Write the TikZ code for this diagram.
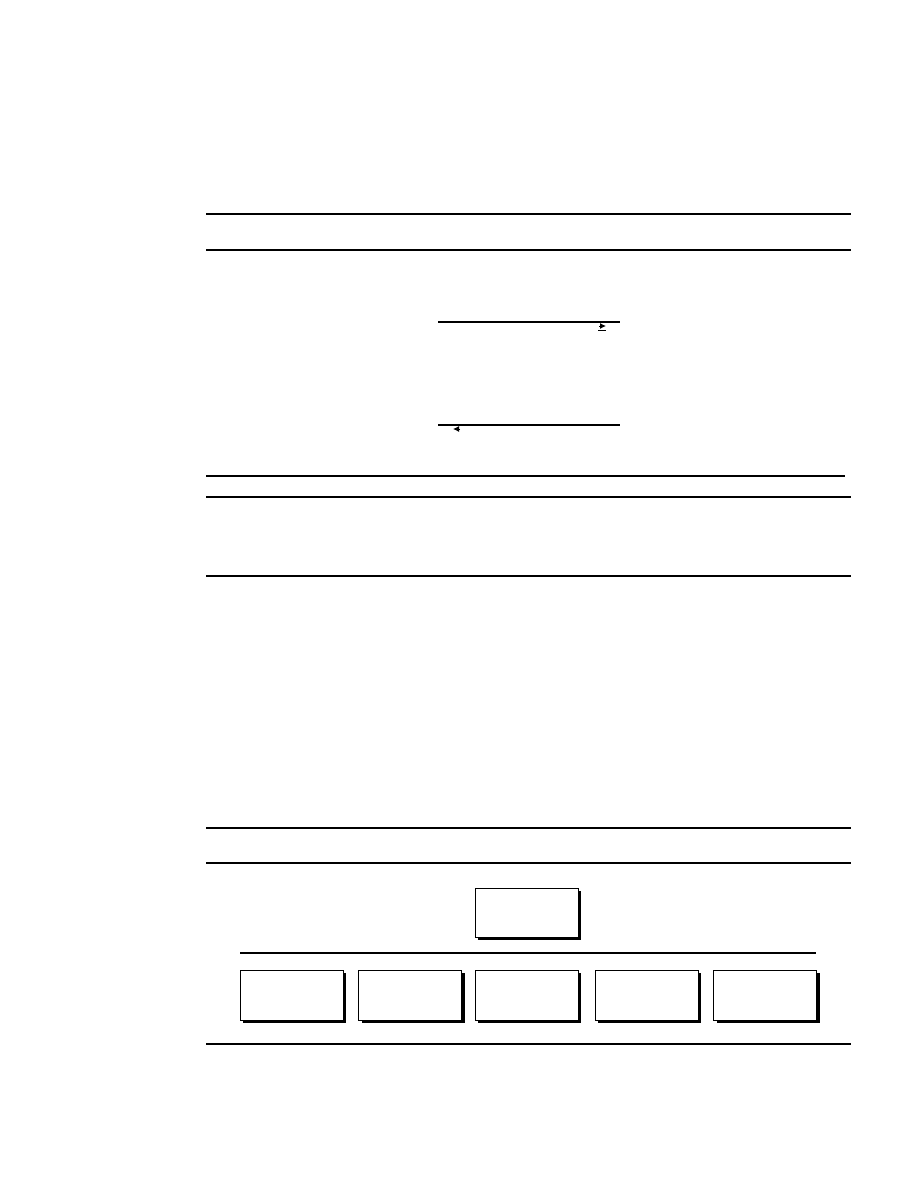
\documentclass[tikz,border=0pt]{standalone}
\usetikzlibrary{arrows.meta,shadows}
\begin{document}
\begin{tikzpicture}[x=1pt,y=-1pt,
  rule/.style={line width=1.2pt},
  boldrule/.style={line width=2pt},
  sbox/.style={draw, line width=1pt, fill=white, minimum width=103pt, minimum height=50pt, inner sep=0pt,
    drop shadow={shadow xshift=3pt, shadow yshift=-3pt, fill=black, opacity=1}},
  tip/.style={-{Latex[length=6pt,width=6pt]}, line width=1pt}]
\useasboundingbox (0,0) rectangle (918,1188);
% horizontal rules
\coordinate (r1a) at (206,214); \coordinate (r1b) at (851,214);
\coordinate (r2a) at (206,250); \coordinate (r2b) at (851,250);
\coordinate (r3a) at (206,476); \coordinate (r3b) at (845,476);
\coordinate (r4a) at (206,497); \coordinate (r4b) at (851,497);
\coordinate (r5a) at (206,576); \coordinate (r5b) at (851,576);
\coordinate (r6a) at (206,828); \coordinate (r6b) at (851,828);
\coordinate (r7a) at (206,863); \coordinate (r7b) at (851,863);
\coordinate (r8a) at (206,1044); \coordinate (r8b) at (851,1044);
\draw[rule] (r1a) -- (r1b);
\draw[rule] (r2a) -- (r2b);
\draw[rule] (r3a) -- (r3b);
\draw[boldrule] (r4a) -- (r4b);
\draw[boldrule] (r5a) -- (r5b);
\draw[rule] (r6a) -- (r6b);
\draw[rule] (r7a) -- (r7b);
\draw[rule] (r8a) -- (r8b);
% arrows
\coordinate (a1s) at (438,322); \coordinate (a1e) at (620,322);
\coordinate (t1s) at (599,326); \coordinate (t1e) at (606,326);
\coordinate (u1s) at (598,330); \coordinate (u1e) at (606,330);
\draw[rule] (a1s) -- (a1e);
\draw[tip] (t1s) -- (t1e);
\draw[line width=1pt] (u1s) -- (u1e);
\coordinate (a2s) at (438,425); \coordinate (a2e) at (620,425);
\coordinate (t2s) at (460,429); \coordinate (t2e) at (453,429);
\draw[rule] (a2s) -- (a2e);
\draw[tip] (t2s) -- (t2e);
% boxes
\node[sbox, minimum height=49pt] (top) at (526.5,912.5) {};
\coordinate (ba) at (240,953); \coordinate (bb) at (816,953);
\draw[rule] (ba) -- (bb);
\node[sbox] (b1) at (291.5,995) {};
\node[sbox] (b2) at (410,995) {};
\node[sbox] (b3) at (526.5,995) {};
\node[sbox] (b4) at (646.5,995) {};
\node[sbox] (b5) at (765,995) {};
\end{tikzpicture}
\end{document}
